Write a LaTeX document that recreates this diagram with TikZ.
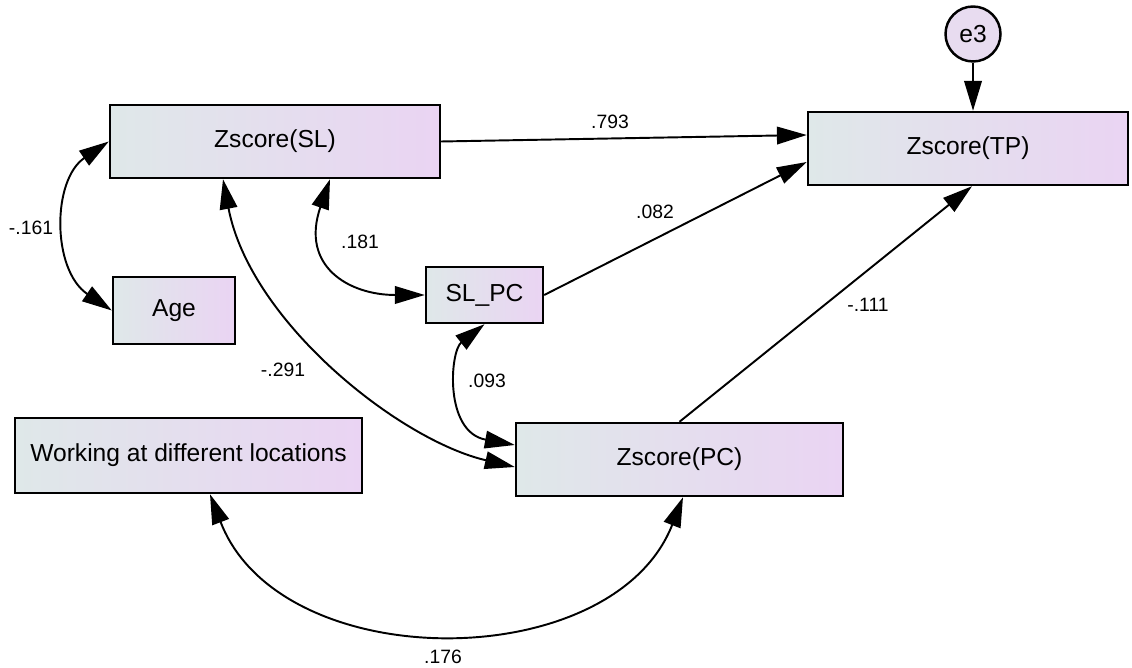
\documentclass[tikz,border=0pt]{standalone}
\usepackage{fontspec}
\setmainfont{Liberation Sans}
\usetikzlibrary{arrows.meta,calc}
\definecolor{boxleft}{RGB}{223,232,233}
\definecolor{boxright}{RGB}{234,212,243}
\definecolor{errfill}{RGB}{232,220,240}
\tikzset{
  varbox/.style={draw, line width=1.4pt, left color=boxleft, right color=boxright,
                 inner sep=0pt, font=\fontsize{14}{16}\selectfont},
  errcirc/.style={draw, circle, line width=1.4pt, fill=errfill, inner sep=0pt,
                  minimum size=1.1cm, font=\fontsize{14}{16}\selectfont},
  regpath/.style={line width=1.1pt, -{Triangle[length=17pt,width=10pt]}},
  covpath/.style={line width=1.1pt, {Triangle[length=17pt,width=10pt]}-{Triangle[length=17pt,width=10pt]}},
  coeflabel/.style={inner sep=0pt, font=\fontsize{11}{13}\selectfont}
}
\begin{document}
\begin{tikzpicture}
        \useasboundingbox (0,0) rectangle (22.64,13.34);
        \node [varbox, minimum width=6.60cm, minimum height=1.46cm] (sl)    at (5.50,10.51)  {Zscore(SL)};   %SL
        \node [varbox, minimum width=6.40cm, minimum height=1.46cm] (tp)    at (19.36,10.37) {Zscore(TP)};   %TP
        \node [errcirc]                                             (e3)    at (19.46,12.66) {e3};           %error
        \node [varbox, minimum width=2.44cm, minimum height=1.34cm] (age)   at (3.48,7.13)   {Age};          %
        \node [varbox, minimum width=2.34cm, minimum height=1.12cm] (slpc)  at (9.69,7.44)   {SL\_PC};       %
        \node [varbox, minimum width=6.54cm, minimum height=1.46cm] (pc)    at (13.59,4.15)  {Zscore(PC)};   %PC
        \node [varbox, minimum width=6.94cm, minimum height=1.50cm] (work)  at (3.77,4.23)   {Working at different locations};
        % regression paths
        \draw [regpath] (e3) -- (e3 |- tp.north);                                          %
        \draw [regpath] (sl.east) -- ($(tp.west)+(0,0.27)$);                                %
        \draw [regpath] (slpc.east) -- ($(tp.west)+(0,-0.27)$);                             %
        \draw [regpath] (pc.north) -- ($(tp.south)+(0.08,0)$);                              %
        % covariances
        \draw [covpath] (sl.west) .. controls +(-1.14,-0.77) and +(-1.20,0.81) .. (age.west);
        \draw [covpath] ($(sl.south)+(1.10,0)$) .. controls +(-0.60,-1.74) and +(-1.52,0) .. (slpc.west);
        \draw [covpath] ($(sl.south)+(-1.04,0)$) .. controls +(0.54,-2.84) and +(-2.32,0.54) .. ($(pc.west)+(0,-0.15)$);
        \draw [covpath] (slpc.south) .. controls +(-0.69,-0.54) and +(-1.42,0.26) .. ($(pc.west)+(0,0.29)$);
        \draw [covpath] ($(work.south)+(0.43,0)$) .. controls +(1.40,-3.66) and +(-1.40,-3.58) .. ($(pc.south)+(0.07,0)$);
        % estimates
        \node [coeflabel] (c793) at (12.20,10.90) {.793};                                   %
        \node [coeflabel] (c082) at (13.10,9.10)  {.082};                                   %
        \node [coeflabel] (c111) at (17.36,7.24)  {-.111};                                  %
        \node [coeflabel] (c161) at (0.62,8.78)   {-.161};                                  %
        \node [coeflabel] (c181) at (7.20,8.50)   {.181};                                   %
        \node [coeflabel] (c291) at (5.66,5.94)   {-.291};                                  %
        \node [coeflabel] (c093) at (9.74,5.72)   {.093};                                   %
        \node [coeflabel] (c176) at (8.86,0.20)   {.176};                                   %
\end{tikzpicture}
\end{document}
